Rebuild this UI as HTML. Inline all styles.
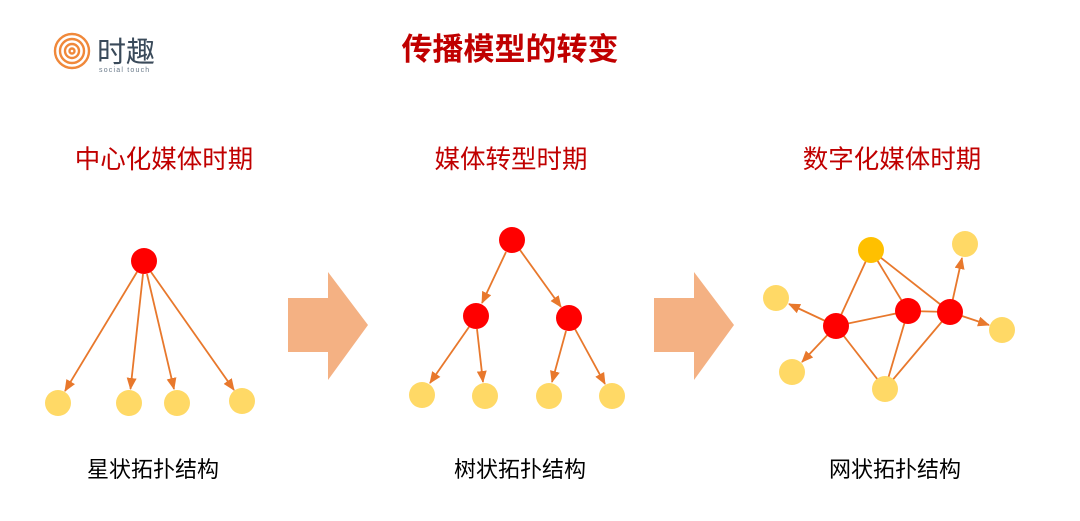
<!DOCTYPE html>
<html><head><meta charset="utf-8"><style>
body{margin:0;background:#fff;}
svg text{font-family:"Liberation Sans","Noto Sans CJK SC",sans-serif;}
</style></head><body>
<svg width="1080" height="516" viewBox="0 0 1080 516" xmlns="http://www.w3.org/2000/svg">
<defs>
<marker id="a" markerUnits="userSpaceOnUse" markerWidth="12" markerHeight="10" refX="11" refY="5" orient="auto">
<path d="M0,0 L12,5 L0,10 Z" fill="#e8782c"/>
</marker>
</defs>
<!-- logo -->
<g fill="none" stroke="#f0883a" stroke-width="2.4">
<circle cx="72" cy="51" r="17"/><circle cx="72" cy="51" r="12"/><circle cx="72" cy="51" r="7"/><circle cx="72" cy="51" r="2.5"/>
</g>
<text x="97" y="62" font-size="29" fill="#3a4a5a">时趣</text>
<text x="99" y="72" font-size="7" fill="#6a7a8a" letter-spacing="1.2">social touch</text>
<text x="510" y="60" font-size="31" font-weight="bold" fill="#c00000" text-anchor="middle">传播模型的转变</text>
<g font-size="25.5" fill="#c00000" text-anchor="middle">
<text x="164" y="168">中心化媒体时期</text>
<text x="511" y="168">媒体转型时期</text>
<text x="892" y="168">数字化媒体时期</text>
</g>
<g font-size="22" fill="#000" text-anchor="middle">
<text x="153" y="477">星状拓扑结构</text>
<text x="520" y="477">树状拓扑结构</text>
<text x="895" y="477">网状拓扑结构</text>
</g>
<!-- big arrows -->
<path d="M288,298 H328 V272 L368,325 L328,380 V352 H288 Z" fill="#f4b183"/>
<path d="M654,298 H694 V272 L734,325 L694,380 V352 H654 Z" fill="#f4b183"/>
<g stroke="#e8782c" stroke-width="1.8" fill="none">
<line x1="137" y1="272" x2="65" y2="391" marker-end="url(#a)"/>
<line x1="143" y1="274" x2="130.5" y2="389" marker-end="url(#a)"/>
<line x1="147" y1="274" x2="174" y2="389" marker-end="url(#a)"/>
<line x1="151" y1="272" x2="234" y2="390" marker-end="url(#a)"/>
<line x1="506" y1="252" x2="482" y2="303" marker-end="url(#a)"/>
<line x1="520" y1="250" x2="561" y2="307" marker-end="url(#a)"/>
<line x1="469" y1="327" x2="430" y2="383" marker-end="url(#a)"/>
<line x1="477" y1="329" x2="483" y2="382" marker-end="url(#a)"/>
<line x1="566" y1="331" x2="552" y2="382" marker-end="url(#a)"/>
<line x1="575" y1="329" x2="605" y2="384" marker-end="url(#a)"/>
<line x1="871" y1="250" x2="836" y2="326"/>
<line x1="871" y1="250" x2="908" y2="311"/>
<line x1="871" y1="250" x2="950" y2="312"/>
<line x1="836" y1="326" x2="908" y2="311"/>
<line x1="908" y1="311" x2="950" y2="312"/>
<line x1="836" y1="326" x2="885" y2="389"/>
<line x1="908" y1="311" x2="885" y2="389"/>
<line x1="950" y1="312" x2="885" y2="389"/>
<line x1="836" y1="326" x2="789" y2="304" marker-end="url(#a)"/>
<line x1="836" y1="326" x2="802" y2="362" marker-end="url(#a)"/>
<line x1="950" y1="312" x2="962" y2="258" marker-end="url(#a)"/>
<line x1="950" y1="312" x2="989" y2="325" marker-end="url(#a)"/>
</g>
<g fill="#ff0000">
<circle cx="144" cy="261" r="13"/>
<circle cx="512" cy="240" r="13"/><circle cx="476" cy="316" r="13"/><circle cx="569" cy="318" r="13"/>
<circle cx="836" cy="326" r="13"/><circle cx="908" cy="311" r="13"/><circle cx="950" cy="312" r="13"/>
</g>
<g fill="#ffd966">
<circle cx="58" cy="403" r="13"/><circle cx="129" cy="403" r="13"/><circle cx="177" cy="403" r="13"/><circle cx="242" cy="401" r="13"/>
<circle cx="422" cy="395" r="13"/><circle cx="485" cy="396" r="13"/><circle cx="549" cy="396" r="13"/><circle cx="612" cy="396" r="13"/>
<circle cx="965" cy="244" r="13"/><circle cx="776" cy="298" r="13"/><circle cx="1002" cy="330" r="13"/><circle cx="792" cy="372" r="13"/><circle cx="885" cy="389" r="13"/>
</g>
<circle cx="871" cy="250" r="13" fill="#ffc000"/>
</svg>
</body></html>
